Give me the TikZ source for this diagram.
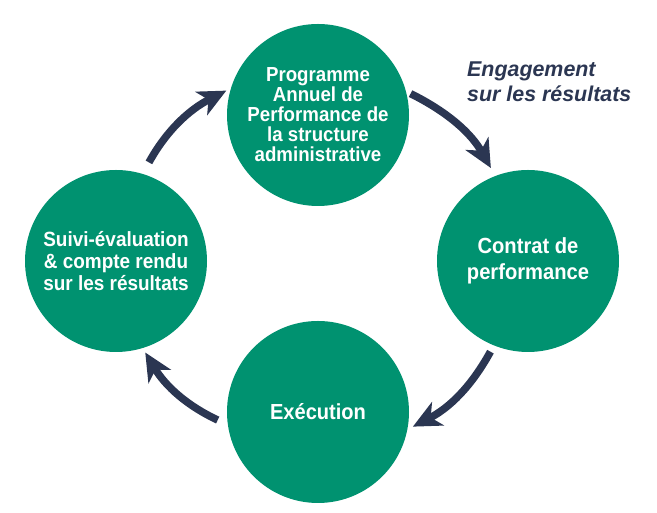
\documentclass[tikz,border=0pt]{standalone}
\usepackage{fontspec}
\setmainfont{Liberation Sans}
\newfontfamily\stagefont{Liberation Sans}[FakeStretch=0.92]
\usetikzlibrary{arrows.meta}
\definecolor{stagegreen}{RGB}{0,146,112}
\definecolor{cyclenavy}{RGB}{43,54,82}

\begin{document}
\begin{tikzpicture}[x=1pt,y=1pt]
% Cycle style
\tikzset{
    stage/.style={circle, fill=stagegreen, text=white, minimum size=182pt, inner sep=0pt, align=center},
    cycle arrow/.style={draw=cyclenavy, line width=7.5pt, -{Stealth[length=28pt,width=26pt,inset=8pt]}, bend left=17}
}
\useasboundingbox (0,0) rectangle (657,513);
% Stages
\node[stage, font=\stagefont\bfseries\fontsize{20.3}{20}\selectfont] (PAP) at (318,398){Programme\\Annuel de\\Performance de\\la structure\\administrative};
\node[stage, font=\stagefont\bfseries\fontsize{21.9}{25.7}\selectfont] (CP) at (528,252){Contrat de\\performance};
\node[stage, font=\stagefont\bfseries\fontsize{21.8}{22}\selectfont] (EXE) at (318,101){Exécution};
\node[stage, font=\stagefont\bfseries\fontsize{20.6}{21.7}\selectfont] (SUIVI) at (116,252){Suivi-évaluation\\\& compte rendu\\sur les résultats};
% Label
\node[anchor=north west, inner sep=0pt, align=left, text=cyclenavy, font=\bfseries\itshape\fontsize{21.4}{25}\selectfont] (ENG) at (467,451){Engagement\\sur les résultats};
% Arrows
\draw[cycle arrow, shorten <=5pt, shorten >=9pt] (PAP.15) to (CP.111);
\draw[cycle arrow, shorten <=7pt, shorten >=6pt] (CP.248) to (EXE.349);
\draw[cycle arrow, shorten <=11pt, shorten >=5pt] (EXE.188) to (SUIVI.287);
\draw[cycle arrow, shorten <=13pt, shorten >=5pt] (SUIVI.73) to (PAP.163);

\end{tikzpicture}
\end{document}
